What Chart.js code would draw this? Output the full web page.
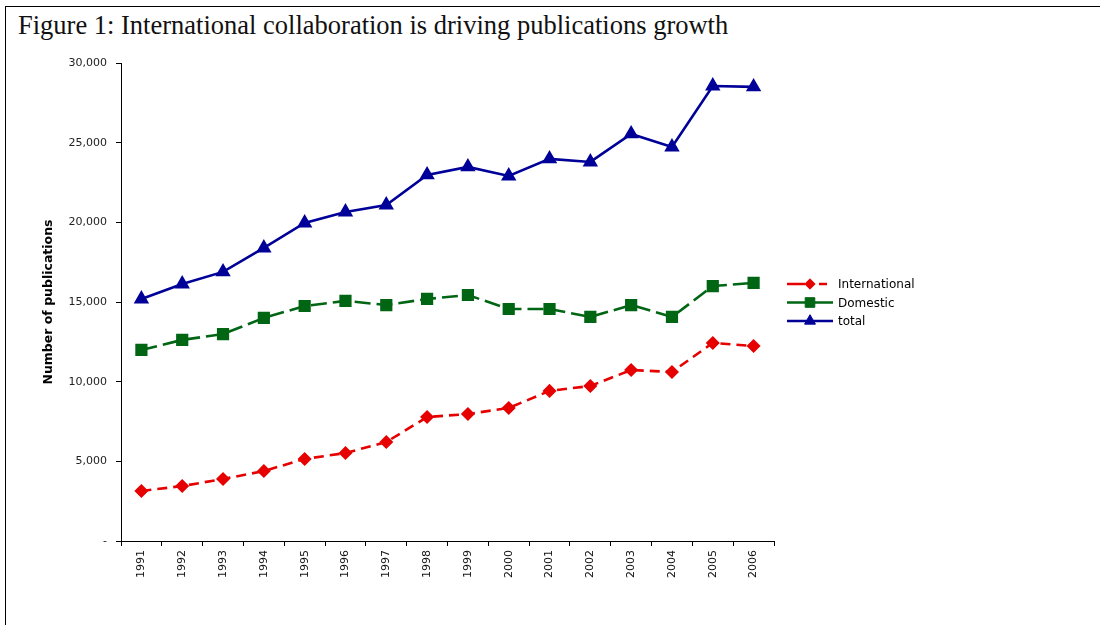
<!DOCTYPE html>
<html>
<head>
<meta charset="utf-8">
<script src="https://cdn.jsdelivr.net/npm/chart.js@4.4.1/dist/chart.umd.min.js"></script>
<style>
  body { margin: 0; background: #fff; }
  #wrap { position: relative; width: 1100px; height: 625px; overflow: hidden; }
  #frame { position: absolute; left: 5px; top: 6px; right: -5px; bottom: -5px;
           border-top: 1px solid #000; border-left: 1px solid #000; }
  #title { position: absolute; left: 18px; top: 10px; font-family: "Liberation Serif", serif;
           font-size: 26.5px; color: #111; white-space: nowrap; }
  canvas { position: absolute; left: 0; top: 0; }
</style>
</head>
<body>
<div id="wrap">
  <div id="frame"></div>
  <div id="title">Figure 1: International collaboration is driving publications growth</div>
  <canvas id="pubChart" width="1100" height="625"></canvas>
</div>
<script>
// ── data ──
const years = ['1991', '1992', '1993', '1994', '1995', '1996', '1997', '1998',
               '1999', '2000', '2001', '2002', '2003', '2004', '2005', '2006'];
const international = [3140, 3450, 3890, 4390, 5150, 5520, 6210, 7780,
                       7970, 8350, 9420, 9730, 10730, 10610, 12430, 12240];
const domestic = [11990, 12620, 12990, 14000, 14750, 15070, 14810, 15190,
                  15440, 14560, 14560, 14060, 14810, 14060, 16000, 16200];
const total = [15190, 16130, 16890, 18390, 19960, 20650, 21090, 22980,
               23480, 22910, 23980, 23790, 25550, 24730, 28560, 28500];
const yMin = 0, yMax = 30000, yStep = 5000;

const AXIS_FONT = 'DejaVu Sans';

// legend drawn as line + marker like the original
const lineLegend = {
    id: 'lineLegend',
    afterDraw(chart) {
        const ctx = chart.ctx;
        chart.data.datasets.forEach((ds, i) => {
            const y = 284 + i * 18.5;
            ctx.save();
            ctx.strokeStyle = ds.borderColor;
            ctx.lineWidth = ds.borderWidth;
            ctx.setLineDash(ds.legendDash || []);
            ctx.beginPath();
            ctx.moveTo(787, y);
            ctx.lineTo(833, y);
            ctx.stroke();
            ctx.setLineDash([]);
            ctx.fillStyle = ds.pointBackgroundColor;
            ctx.strokeStyle = ds.pointBorderColor;
            ctx.lineWidth = 1;
            Chart.helpers.drawPoint(ctx, {
                pointStyle: ds.pointStyle, radius: ds.pointRadius, rotation: 0, borderWidth: 1
            }, 810, y);
            ctx.fillStyle = '#000';
            ctx.font = '12px "' + AXIS_FONT + '"';
            ctx.textBaseline = 'middle';
            ctx.fillText(ds.label, 838, y + 1);
            ctx.restore();
        });
    }
};

new Chart(document.getElementById('pubChart'), {
    type: 'line',
    data: {
        labels: years,
        datasets: [
            {
                label: 'International', data: international,
                borderColor: '#e60000', borderWidth: 2.6, borderDash: [10, 6],
                legendDash: [18, 14, 8, 20],
                pointStyle: 'rectRot', pointRadius: 5.2,
                pointBackgroundColor: '#e60000', pointBorderColor: '#e60000',
                tension: 0
            },
            {
                label: 'Domestic', data: domestic,
                borderColor: '#006614', borderWidth: 2.6, borderDash: [16, 6],
                pointStyle: 'rect', pointRadius: 6.8,
                pointBackgroundColor: '#006614', pointBorderColor: '#006614',
                tension: 0
            },
            {
                label: 'total', data: total,
                borderColor: '#000099', borderWidth: 2.6,
                pointStyle: 'triangle', pointRadius: 6.3,
                pointBackgroundColor: '#000099', pointBorderColor: '#000099',
                tension: 0
            }
        ]
    },
    options: {
        responsive: false,
        animation: false,
        layout: { padding: { left: 20, right: 326, top: 63, bottom: 20 } },
        plugins: {
            legend: { display: false },
            tooltip: { enabled: false }
        },
        scales: {
            x: {
                type: 'category',
                offset: true,
                grid: { offset: true, drawOnChartArea: false, drawTicks: true, tickLength: 5, color: '#000' },
                border: { color: '#000', width: 1 },
                ticks: {
                    autoSkip: false, minRotation: 90, maxRotation: 90, padding: 4,
                    color: '#111', font: { family: AXIS_FONT, size: 11 }
                },
                afterFit: s => { s.height = 64; }
            },
            y: {
                min: yMin, max: yMax,
                grid: { drawOnChartArea: false, drawTicks: true, tickLength: 5, color: '#000' },
                border: { color: '#000', width: 1 },
                ticks: {
                    stepSize: yStep, padding: 9, color: '#222',
                    font: { family: AXIS_FONT, size: 11 },
                    callback: v => v === 0 ? '-' : v.toLocaleString('en-US')
                },
                title: {
                    display: true, text: 'Number of publications', color: '#000',
                    font: { family: AXIS_FONT, size: 12.5, weight: 'bold' },
                    padding: { top: 21 }
                },
                afterFit: s => { s.width = 101; }
            }
        }
    },
    plugins: [lineLegend]
});
</script>
</body>
</html>
